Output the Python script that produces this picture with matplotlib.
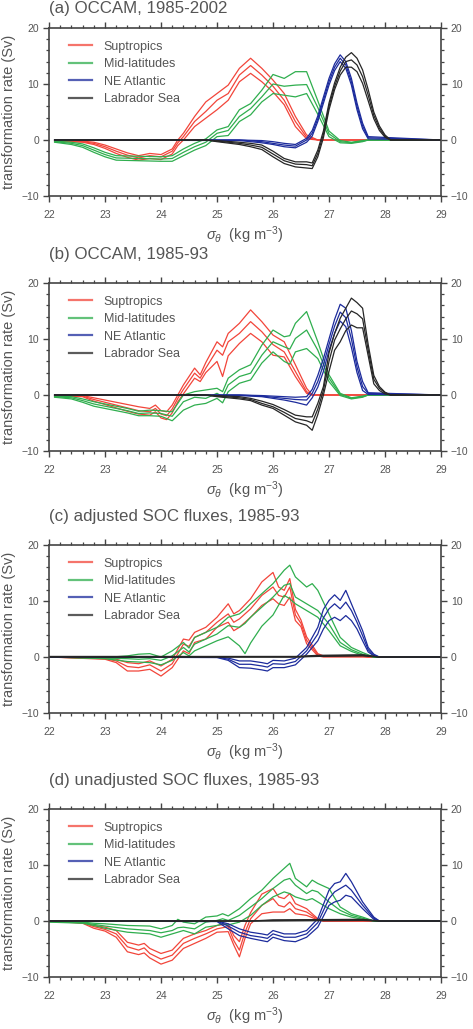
import numpy as np
import matplotlib.pyplot as plt
from matplotlib.ticker import MultipleLocator

plt.rcParams['font.family'] = ['Liberation Sans', 'DejaVu Sans']
plt.rcParams['mathtext.fontset'] = 'custom'
plt.rcParams['mathtext.rm'] = 'Liberation Sans'
plt.rcParams['mathtext.it'] = 'Liberation Sans:italic'

# ---------- (a) OCCAM, 1985-2002 ----------
a_sub_x = [22.1, 22.6, 22.8, 23.0, 23.2, 23.4, 23.6, 23.8, 24.0, 24.2, 24.3, 24.4, 24.6, 24.8, 25.0, 25.2, 25.4, 25.6, 25.8, 26.0, 26.2, 26.4, 26.6, 26.8, 29.0]
a_sub_hi = [-0.1, -0.2, -0.4, -0.9, -1.6, -2.3, -2.8, -2.4, -2.6, -1.6, 0.0, 1.2, 4.2, 6.8, 8.3, 9.8, 12.8, 14.6, 12.8, 10.7, 8.3, 4.2, 0.9, 0.0, 0.0]
a_sub_mid = [-0.1, -0.3, -0.6, -1.2, -2.0, -2.7, -3.2, -2.8, -3.0, -2.0, -0.5, 0.6, 3.3, 5.1, 7.1, 8.3, 11.6, 13.3, 11.6, 9.6, 7.1, 3.3, 0.5, 0.0, 0.0]
a_sub_lo = [-0.2, -0.4, -0.8, -1.5, -2.4, -3.1, -3.6, -3.3, -3.5, -2.5, -1.0, 0.0, 2.4, 3.9, 5.4, 7.1, 10.4, 11.9, 10.4, 8.6, 6.3, 2.4, 0.2, 0.0, 0.0]

a_mid_x = [22.1, 22.4, 22.6, 22.8, 23.0, 23.2, 23.6, 24.0, 24.2, 24.4, 24.6, 24.8, 25.0, 25.2, 25.4, 25.6, 25.8, 26.0, 26.2, 26.4, 26.6, 26.8, 27.0, 27.2, 27.4, 27.6, 27.7, 29.0]
a_mid_hi = [-0.2, -0.4, -0.7, -1.4, -2.2, -2.8, -2.9, -3.0, -2.8, -1.6, -0.6, 0.2, 1.8, 2.4, 5.4, 6.5, 8.9, 11.7, 11.0, 12.2, 12.2, 7.0, 1.6, -0.1, -0.4, -0.1, 0.0, 0.0]
a_mid_mid = [-0.3, -0.6, -1.0, -1.8, -2.6, -3.2, -3.3, -3.4, -3.3, -2.2, -1.2, -0.4, 1.2, 1.7, 4.2, 5.6, 7.7, 10.0, 9.6, 9.8, 9.9, 5.8, 1.1, -0.3, -0.5, -0.2, 0.0, 0.0]
a_mid_lo = [-0.4, -0.8, -1.3, -2.2, -3.0, -3.6, -3.7, -3.8, -3.8, -2.8, -1.8, -1.0, 0.6, 0.8, 3.3, 4.5, 6.8, 8.3, 8.0, 7.7, 8.3, 4.6, 0.6, -0.5, -0.6, -0.3, 0.0, 0.0]

a_nea_x = [22.1, 25.4, 25.8, 26.0, 26.2, 26.4, 26.6, 26.7, 26.8, 27.0, 27.1, 27.2, 27.3, 27.4, 27.5, 27.6, 27.7, 29.0]
a_nea_hi = [0.0, 0.0, -0.1, -0.3, -0.6, -0.8, 0.3, 1.7, 4.3, 11.0, 13.6, 15.2, 14.0, 11.0, 6.6, 3.0, 0.6, 0.0]
a_nea_mid = [0.0, 0.0, -0.3, -0.6, -0.9, -1.1, 0.0, 1.2, 3.8, 10.4, 13.0, 14.6, 13.4, 10.4, 6.0, 2.5, 0.4, 0.0]
a_nea_lo = [0.0, -0.1, -0.5, -0.8, -1.2, -1.4, -0.4, 0.7, 3.3, 9.8, 12.4, 14.0, 12.8, 9.8, 5.4, 2.0, 0.2, 0.0]

a_lab_x = [22.1, 24.8, 25.0, 25.4, 25.6, 25.8, 26.0, 26.2, 26.4, 26.6, 26.7, 26.8, 26.9, 27.0, 27.1, 27.2, 27.3, 27.4, 27.5, 27.6, 27.7, 27.8, 27.9, 28.0, 28.1, 29.0]
a_lab_hi = [0.0, 0.0, -0.1, -0.4, -0.6, -0.9, -2.0, -3.3, -3.9, -3.9, -4.1, -1.8, 1.6, 6.6, 10.2, 13.0, 14.8, 15.6, 14.6, 12.5, 9.0, 5.0, 2.5, 0.9, 0.0, 0.0]
a_lab_mid = [0.0, 0.0, -0.2, -0.6, -0.9, -1.3, -2.5, -3.7, -4.3, -4.4, -4.6, -2.4, 1.0, 6.0, 9.6, 12.3, 14.0, 14.3, 13.4, 11.3, 8.0, 4.4, 2.1, 0.7, 0.0, 0.0]
a_lab_lo = [0.0, 0.0, -0.3, -0.8, -1.2, -1.7, -3.0, -4.2, -4.8, -5.0, -5.1, -3.0, 0.4, 5.4, 9.0, 11.6, 13.0, 13.0, 12.2, 10.1, 7.0, 3.8, 1.7, 0.5, 0.0, 0.0]

# ---------- (b) OCCAM, 1985-93 ----------
b_sub_x = [22.1, 22.6, 22.8, 23.0, 23.2, 23.4, 23.6, 23.8, 23.9, 24.0, 24.1, 24.2, 24.3, 24.4, 24.6, 24.7, 24.8, 25.0, 25.1, 25.2, 25.4, 25.6, 25.8, 26.0, 26.2, 26.4, 26.6, 26.7, 29.0]
b_sub_hi = [-0.1, -0.1, -0.5, -0.9, -1.3, -1.7, -2.1, -2.4, -1.8, -2.8, -3.0, -1.8, 0.0, 1.8, 4.8, 3.6, 5.8, 9.5, 8.6, 11.0, 12.8, 15.2, 13.1, 10.7, 9.5, 5.4, 1.2, 0.0, 0.0]
b_sub_mid = [-0.1, -0.2, -0.8, -1.3, -1.8, -2.3, -2.8, -3.0, -2.4, -3.4, -3.7, -2.5, -0.6, 1.0, 3.9, 3.0, 4.8, 8.0, 7.1, 9.5, 11.0, 13.1, 11.3, 9.0, 7.7, 4.2, 0.6, 0.0, 0.0]
b_sub_lo = [-0.2, -0.3, -1.1, -1.7, -2.3, -2.9, -3.4, -3.6, -3.0, -4.1, -4.4, -3.2, -1.2, 0.2, 3.0, 2.4, 4.0, 6.0, 3.3, 7.0, 9.2, 11.0, 9.5, 7.1, 6.8, 3.3, 0.3, 0.0, 0.0]

b_mid_x = [22.1, 22.4, 22.6, 22.8, 23.0, 23.2, 23.4, 23.6, 23.8, 24.0, 24.2, 24.4, 24.6, 24.8, 25.0, 25.1, 25.2, 25.4, 25.6, 25.8, 26.0, 26.2, 26.3, 26.4, 26.6, 26.8, 27.0, 27.2, 27.4, 27.6, 27.7, 29.0]
b_mid_hi = [-0.2, -0.3, -0.7, -1.2, -1.6, -2.0, -2.4, -2.9, -2.7, -2.8, -3.0, 0.0, 0.6, 0.9, 1.2, 0.6, 3.0, 4.5, 5.4, 8.9, 11.6, 10.4, 10.6, 12.8, 14.9, 9.5, 3.6, 0.3, -0.5, -0.2, 0.0, 0.0]
b_mid_mid = [-0.3, -0.5, -1.0, -1.6, -2.0, -2.4, -2.8, -3.3, -3.2, -3.3, -3.8, -1.2, -0.4, -0.6, 0.3, -0.3, 1.8, 3.3, 3.9, 7.1, 9.5, 8.6, 8.2, 10.1, 11.6, 8.0, 3.0, 0.1, -0.6, -0.3, 0.0, 0.0]
b_mid_lo = [-0.4, -0.7, -1.3, -2.0, -2.4, -2.8, -3.2, -3.7, -3.7, -3.8, -4.6, -2.7, -1.8, -1.5, -0.6, -1.4, 0.6, 2.1, 2.7, 5.7, 7.7, 6.0, 5.5, 7.7, 8.3, 6.5, 2.4, -0.1, -0.7, -0.4, 0.0, 0.0]

b_nea_x = [22.1, 25.4, 25.8, 26.0, 26.2, 26.4, 26.6, 26.7, 26.8, 26.9, 27.0, 27.1, 27.2, 27.3, 27.4, 27.5, 27.6, 27.7, 29.0]
b_nea_hi = [0.0, 0.0, -0.1, -0.2, -0.3, -0.4, -0.3, 1.0, 3.5, 6.5, 10.0, 13.5, 16.2, 15.5, 11.5, 6.0, 2.4, 0.4, 0.0]
b_nea_mid = [0.0, 0.0, -0.2, -0.4, -0.6, -0.8, -0.9, 0.3, 2.4, 5.4, 9.0, 12.3, 14.8, 13.8, 10.0, 5.0, 1.5, 0.3, 0.0]
b_nea_lo = [0.0, -0.1, -0.3, -0.6, -0.9, -1.3, -1.8, -0.5, 1.4, 4.2, 8.0, 11.0, 13.2, 12.2, 8.5, 4.0, 0.8, 0.1, 0.0]

b_lab_x = [22.1, 24.8, 25.0, 25.4, 25.6, 25.8, 26.0, 26.2, 26.4, 26.6, 26.7, 26.8, 26.9, 27.0, 27.1, 27.2, 27.3, 27.4, 27.5, 27.6, 27.7, 27.8, 27.9, 28.0, 28.1, 29.0]
b_lab_hi = [0.0, 0.0, -0.1, -0.3, -0.6, -1.1, -1.7, -2.6, -3.6, -3.9, -3.9, -1.5, 1.5, 7.5, 11.0, 13.7, 15.5, 17.3, 16.5, 15.5, 9.0, 3.5, 1.5, 0.5, 0.0, 0.0]
b_lab_mid = [0.0, 0.0, -0.2, -0.5, -0.8, -1.5, -2.1, -3.1, -4.2, -4.6, -5.0, -2.5, 0.8, 6.0, 9.8, 11.8, 13.6, 15.0, 14.5, 13.6, 8.0, 2.8, 1.2, 0.4, 0.0, 0.0]
b_lab_lo = [0.0, 0.0, -0.3, -0.7, -1.0, -1.8, -2.4, -3.6, -4.8, -5.4, -6.3, -3.5, 0.0, 4.2, 8.0, 9.5, 11.5, 12.5, 12.0, 12.0, 7.0, 2.0, 0.8, 0.2, 0.0, 0.0]

# ---------- (c) adjusted SOC fluxes, 1985-93 ----------
c_sub_x = [22.0, 23.0, 23.2, 23.4, 23.6, 23.8, 24.0, 24.2, 24.4, 24.5, 24.6, 24.8, 25.0, 25.2, 25.3, 25.4, 25.6, 25.8, 26.0, 26.1, 26.2, 26.3, 26.4, 26.5, 26.6, 26.8, 26.9, 27.6, 27.7, 29.0]
c_sub_hi = [0.0, -0.2, -0.4, -1.0, -1.2, -0.7, -1.6, -0.4, 3.2, 3.0, 4.4, 5.3, 7.1, 9.5, 7.7, 8.3, 10.4, 13.4, 15.1, 12.5, 11.9, 14.0, 8.5, 6.6, 3.6, 0.6, 0.2, 0.2, 0.0, 0.0]
c_sub_mid = [0.0, -0.3, -0.7, -1.7, -1.9, -1.4, -2.5, -1.2, 2.3, 1.9, 3.5, 4.4, 6.2, 7.7, 6.2, 6.8, 8.6, 11.0, 12.5, 11.0, 10.7, 12.5, 7.5, 6.0, 3.0, 0.4, 0.1, 0.1, 0.0, 0.0]
c_sub_lo = [0.0, -0.4, -1.0, -2.5, -2.5, -2.2, -3.4, -1.9, 1.1, 0.6, 2.6, 3.2, 5.3, 6.2, 4.7, 5.3, 7.1, 9.2, 10.4, 9.5, 9.2, 10.7, 6.5, 5.4, 2.4, 0.2, 0.0, 0.0, 0.0, 0.0]

c_mid_x = [22.0, 23.0, 23.4, 23.6, 23.8, 24.0, 24.2, 24.4, 24.5, 24.6, 24.8, 25.0, 25.2, 25.4, 25.5, 25.6, 25.8, 26.0, 26.2, 26.3, 26.4, 26.6, 26.7, 26.8, 27.0, 27.2, 27.4, 27.6, 27.8, 29.0]
c_mid_hi = [0.0, -0.1, 0.2, 0.5, 0.6, 0.0, 1.1, 2.6, 1.6, 3.5, 4.4, 5.3, 7.1, 7.7, 8.5, 9.5, 11.3, 13.1, 15.5, 16.4, 14.3, 12.5, 13.1, 11.9, 7.7, 3.5, 1.7, 0.8, 0.0, 0.0]
c_mid_mid = [0.0, -0.2, -0.3, -0.4, -0.3, -0.6, 0.2, 1.7, 0.9, 2.3, 3.2, 4.1, 5.6, 5.3, 6.0, 7.1, 8.9, 10.7, 12.8, 13.1, 10.7, 9.5, 8.9, 8.3, 5.9, 2.6, 1.3, 0.5, 0.0, 0.0]
c_mid_lo = [0.0, -0.3, -0.8, -0.9, -1.0, -1.4, -0.6, 0.8, 0.2, 1.1, 2.0, 2.9, 3.6, 2.0, 0.6, 2.5, 5.5, 7.5, 11.0, 10.4, 9.5, 8.3, 7.7, 7.1, 4.7, 2.0, 1.0, 0.3, 0.0, 0.0]

c_nea_x = [22.0, 25.0, 25.2, 25.4, 25.6, 25.8, 25.9, 26.0, 26.2, 26.4, 26.6, 26.8, 26.9, 27.0, 27.1, 27.2, 27.3, 27.4, 27.5, 27.6, 27.7, 27.8, 27.9, 29.0]
c_nea_hi = [0.0, 0.0, -0.2, -0.7, -0.7, -1.0, -1.2, -0.6, -0.7, -0.2, 1.7, 5.3, 8.5, 10.1, 11.1, 10.1, 11.9, 9.5, 7.1, 4.7, 1.7, 0.5, 0.0, 0.0]
c_nea_mid = [0.0, 0.0, -0.4, -1.3, -1.3, -1.6, -1.8, -1.2, -1.3, -0.8, 1.1, 4.1, 7.0, 8.6, 9.5, 8.6, 9.8, 8.3, 6.2, 3.8, 1.3, 0.3, 0.0, 0.0]
c_nea_lo = [0.0, -0.1, -0.6, -1.9, -2.0, -2.3, -2.5, -1.9, -1.9, -1.4, 0.5, 2.9, 5.0, 6.5, 7.1, 6.5, 7.4, 6.5, 5.0, 2.9, 0.9, 0.2, 0.0, 0.0]

c_lab_x = [22.0, 26.4, 26.8, 27.6, 27.9, 29.0]
c_lab_hi = [0.1, 0.1, 0.3, 0.4, 0.0, 0.0]
c_lab_mid = [0.0, 0.0, 0.2, 0.3, 0.0, 0.0]
c_lab_lo = [0.0, 0.0, 0.1, 0.2, 0.0, 0.0]

# ---------- (d) unadjusted SOC fluxes, 1985-93 ----------
d_sub_x = [22.0, 22.6, 22.8, 23.0, 23.2, 23.4, 23.6, 23.7, 23.8, 24.0, 24.2, 24.4, 24.6, 24.8, 25.0, 25.2, 25.3, 25.4, 25.5, 25.6, 25.8, 26.0, 26.1, 26.2, 26.3, 26.4, 26.6, 26.8, 26.9, 29.0]
d_sub_hi = [0.0, -0.2, -0.8, -1.1, -1.7, -3.8, -4.3, -4.0, -4.9, -5.8, -5.2, -3.1, -2.3, -1.7, -0.8, -0.5, -2.6, -3.7, -0.8, 1.5, 4.8, 5.8, 4.3, 4.0, 4.9, 3.1, 2.2, 0.4, 0.0, 0.0]
d_sub_mid = [0.0, -0.3, -1.0, -1.5, -2.3, -4.6, -5.2, -4.8, -5.8, -6.8, -6.1, -4.0, -3.1, -2.3, -1.4, -1.0, -3.5, -5.2, -2.0, 0.4, 2.8, 4.0, 2.8, 2.5, 3.4, 2.2, 1.6, 0.3, 0.0, 0.0]
d_sub_lo = [0.0, -0.4, -1.3, -1.8, -2.9, -5.5, -6.0, -5.7, -6.6, -7.7, -7.0, -4.9, -4.0, -3.1, -2.0, -1.9, -4.3, -6.4, -3.1, -0.5, 1.3, 1.6, 1.6, 1.6, 2.2, 1.3, 1.0, 0.2, 0.0, 0.0]

d_mid_x = [22.0, 22.6, 22.8, 23.0, 23.4, 23.8, 24.0, 24.2, 24.3, 24.4, 24.6, 24.8, 25.0, 25.1, 25.2, 25.4, 25.6, 25.8, 26.0, 26.2, 26.3, 26.4, 26.6, 26.7, 26.8, 27.0, 27.2, 27.4, 27.6, 27.8, 29.0]
d_mid_hi = [-0.1, -0.2, -0.4, -0.5, -0.8, -0.9, -1.4, -0.8, 0.3, -0.2, -0.5, 0.7, 0.9, 1.3, 0.9, 2.2, 4.0, 5.5, 7.6, 9.4, 10.3, 7.6, 6.1, 7.3, 6.7, 5.8, 2.5, 1.3, 0.7, 0.0, 0.0]
d_mid_mid = [-0.1, -0.3, -0.6, -0.9, -1.4, -1.7, -2.1, -1.7, -1.2, -1.1, -1.4, -0.2, 0.1, 0.4, 0.1, 1.0, 2.5, 4.0, 5.8, 7.3, 7.6, 6.4, 4.9, 5.5, 5.2, 3.4, 1.9, 1.0, 0.5, 0.0, 0.0]
d_mid_lo = [-0.2, -0.4, -0.8, -1.3, -2.0, -2.3, -2.9, -2.3, -2.0, -1.7, -2.3, -1.1, -0.8, -0.5, -0.7, -0.2, 1.0, 2.8, 4.3, 5.2, 4.9, 4.3, 3.7, 4.0, 3.4, 2.2, 1.3, 0.7, 0.3, 0.0, 0.0]

d_nea_x = [22.0, 25.0, 25.2, 25.4, 25.6, 25.8, 25.9, 26.0, 26.2, 26.4, 26.6, 26.8, 27.0, 27.1, 27.2, 27.3, 27.4, 27.6, 27.8, 27.9, 29.0]
d_nea_hi = [0.0, 0.0, -0.5, -1.4, -2.0, -2.3, -2.5, -1.7, -2.3, -2.3, -1.7, 0.4, 5.5, 6.7, 7.0, 8.5, 7.0, 3.4, 0.7, 0.0, 0.0]
d_nea_mid = [0.0, 0.0, -0.9, -2.0, -2.6, -2.9, -3.1, -2.3, -2.9, -2.9, -2.3, -0.3, 4.0, 5.2, 5.8, 6.4, 5.5, 2.8, 0.5, 0.0, 0.0]
d_nea_lo = [0.0, -0.1, -1.4, -2.6, -3.1, -3.5, -3.7, -2.9, -3.5, -3.7, -2.9, -1.1, 2.8, 3.4, 3.7, 4.6, 4.3, 2.2, 0.3, 0.0, 0.0]

d_lab_x = [22.0, 25.6, 26.0, 27.6, 27.9, 29.0]
d_lab_hi = [0.0, 0.0, 0.2, 0.3, 0.0, 0.0]
d_lab_mid = [0.0, 0.0, 0.1, 0.2, 0.0, 0.0]
d_lab_lo = [0.0, 0.0, 0.0, 0.1, 0.0, 0.0]

titles = ['(a) OCCAM, 1985-2002', '(b) OCCAM, 1985-93',
          '(c) adjusted SOC fluxes, 1985-93', '(d) unadjusted SOC fluxes, 1985-93']
regions = ['Suptropics', 'Mid-latitudes', 'NE Atlantic', 'Labrador Sea']
colors = ['#f2453a', '#2fae4e', '#1c2b9c', '#262626']

panels = [
    [(a_sub_x, a_sub_lo, a_sub_mid, a_sub_hi), (a_mid_x, a_mid_lo, a_mid_mid, a_mid_hi),
     (a_nea_x, a_nea_lo, a_nea_mid, a_nea_hi), (a_lab_x, a_lab_lo, a_lab_mid, a_lab_hi)],
    [(b_sub_x, b_sub_lo, b_sub_mid, b_sub_hi), (b_mid_x, b_mid_lo, b_mid_mid, b_mid_hi),
     (b_nea_x, b_nea_lo, b_nea_mid, b_nea_hi), (b_lab_x, b_lab_lo, b_lab_mid, b_lab_hi)],
    [(c_sub_x, c_sub_lo, c_sub_mid, c_sub_hi), (c_mid_x, c_mid_lo, c_mid_mid, c_mid_hi),
     (c_nea_x, c_nea_lo, c_nea_mid, c_nea_hi), (c_lab_x, c_lab_lo, c_lab_mid, c_lab_hi)],
    [(d_sub_x, d_sub_lo, d_sub_mid, d_sub_hi), (d_mid_x, d_mid_lo, d_mid_mid, d_mid_hi),
     (d_nea_x, d_nea_lo, d_nea_mid, d_nea_hi), (d_lab_x, d_lab_lo, d_lab_mid, d_lab_hi)],
]

W, H = 473, 1029
txt = '#555555'
ax_bottoms_px = [196, 451, 713, 977]   # pixel row of the -10 line
title_gap_px = [20, 29, 28, 29]         # title centre above the axes top
ax_h_px = 168

fig = plt.figure(figsize=(W / 100, H / 100), dpi=100)

for k, series in enumerate(panels):
    ax = fig.add_axes([49 / W, 1 - ax_bottoms_px[k] / H, 392 / W, ax_h_px / H])

    for (x, lo, mid, hi), col, name in zip(series, colors, regions):
        for j, y in enumerate([lo, mid, hi]):
            ax.plot(x, y, color=col, lw=0.9, label=name if j == 1 else None,
                    solid_joinstyle='round')

    ax.set_xlim(22, 29)
    ax.set_ylim(-10, 20)
    ax.xaxis.set_major_locator(MultipleLocator(1))
    ax.xaxis.set_minor_locator(MultipleLocator(0.2))
    ax.yaxis.set_major_locator(MultipleLocator(10))
    ax.yaxis.set_minor_locator(MultipleLocator(2))
    ax.tick_params(which='both', direction='out', top=True, right=True,
                   labelright=True, colors='#444444', labelcolor=txt, labelsize=7.5)
    ax.tick_params(which='major', length=4, width=1.0, pad=3)
    ax.tick_params(which='minor', length=2.2, width=0.9)
    ax.tick_params(axis='x', which='major', pad=6)
    for s in ax.spines.values():
        s.set_color('#444444')
        s.set_linewidth(1.2)

    ax.set_ylabel('transformation rate (Sv)', fontsize=10.5, color=txt, labelpad=4)
    ax.set_xlabel(r'$\sigma_\theta$  (kg m$^{-3}$)', fontsize=10.5, color=txt, labelpad=3)
    ax.text(0, 1 + title_gap_px[k] / ax_h_px, titles[k], transform=ax.transAxes,
            ha='left', va='center', fontsize=12.2, color=txt)

    leg = ax.legend(loc='upper left', bbox_to_anchor=(0.05, 0.925), frameon=False,
                    fontsize=9, handlelength=1.9, handletextpad=0.9,
                    labelspacing=0.45, borderaxespad=0, borderpad=0)
    for t in leg.get_texts():
        t.set_color(txt)
    for h in leg.legend_handles:
        h.set_linewidth(1.6)
        h.set_alpha(0.75)

fig.savefig('out.png', dpi=100)
